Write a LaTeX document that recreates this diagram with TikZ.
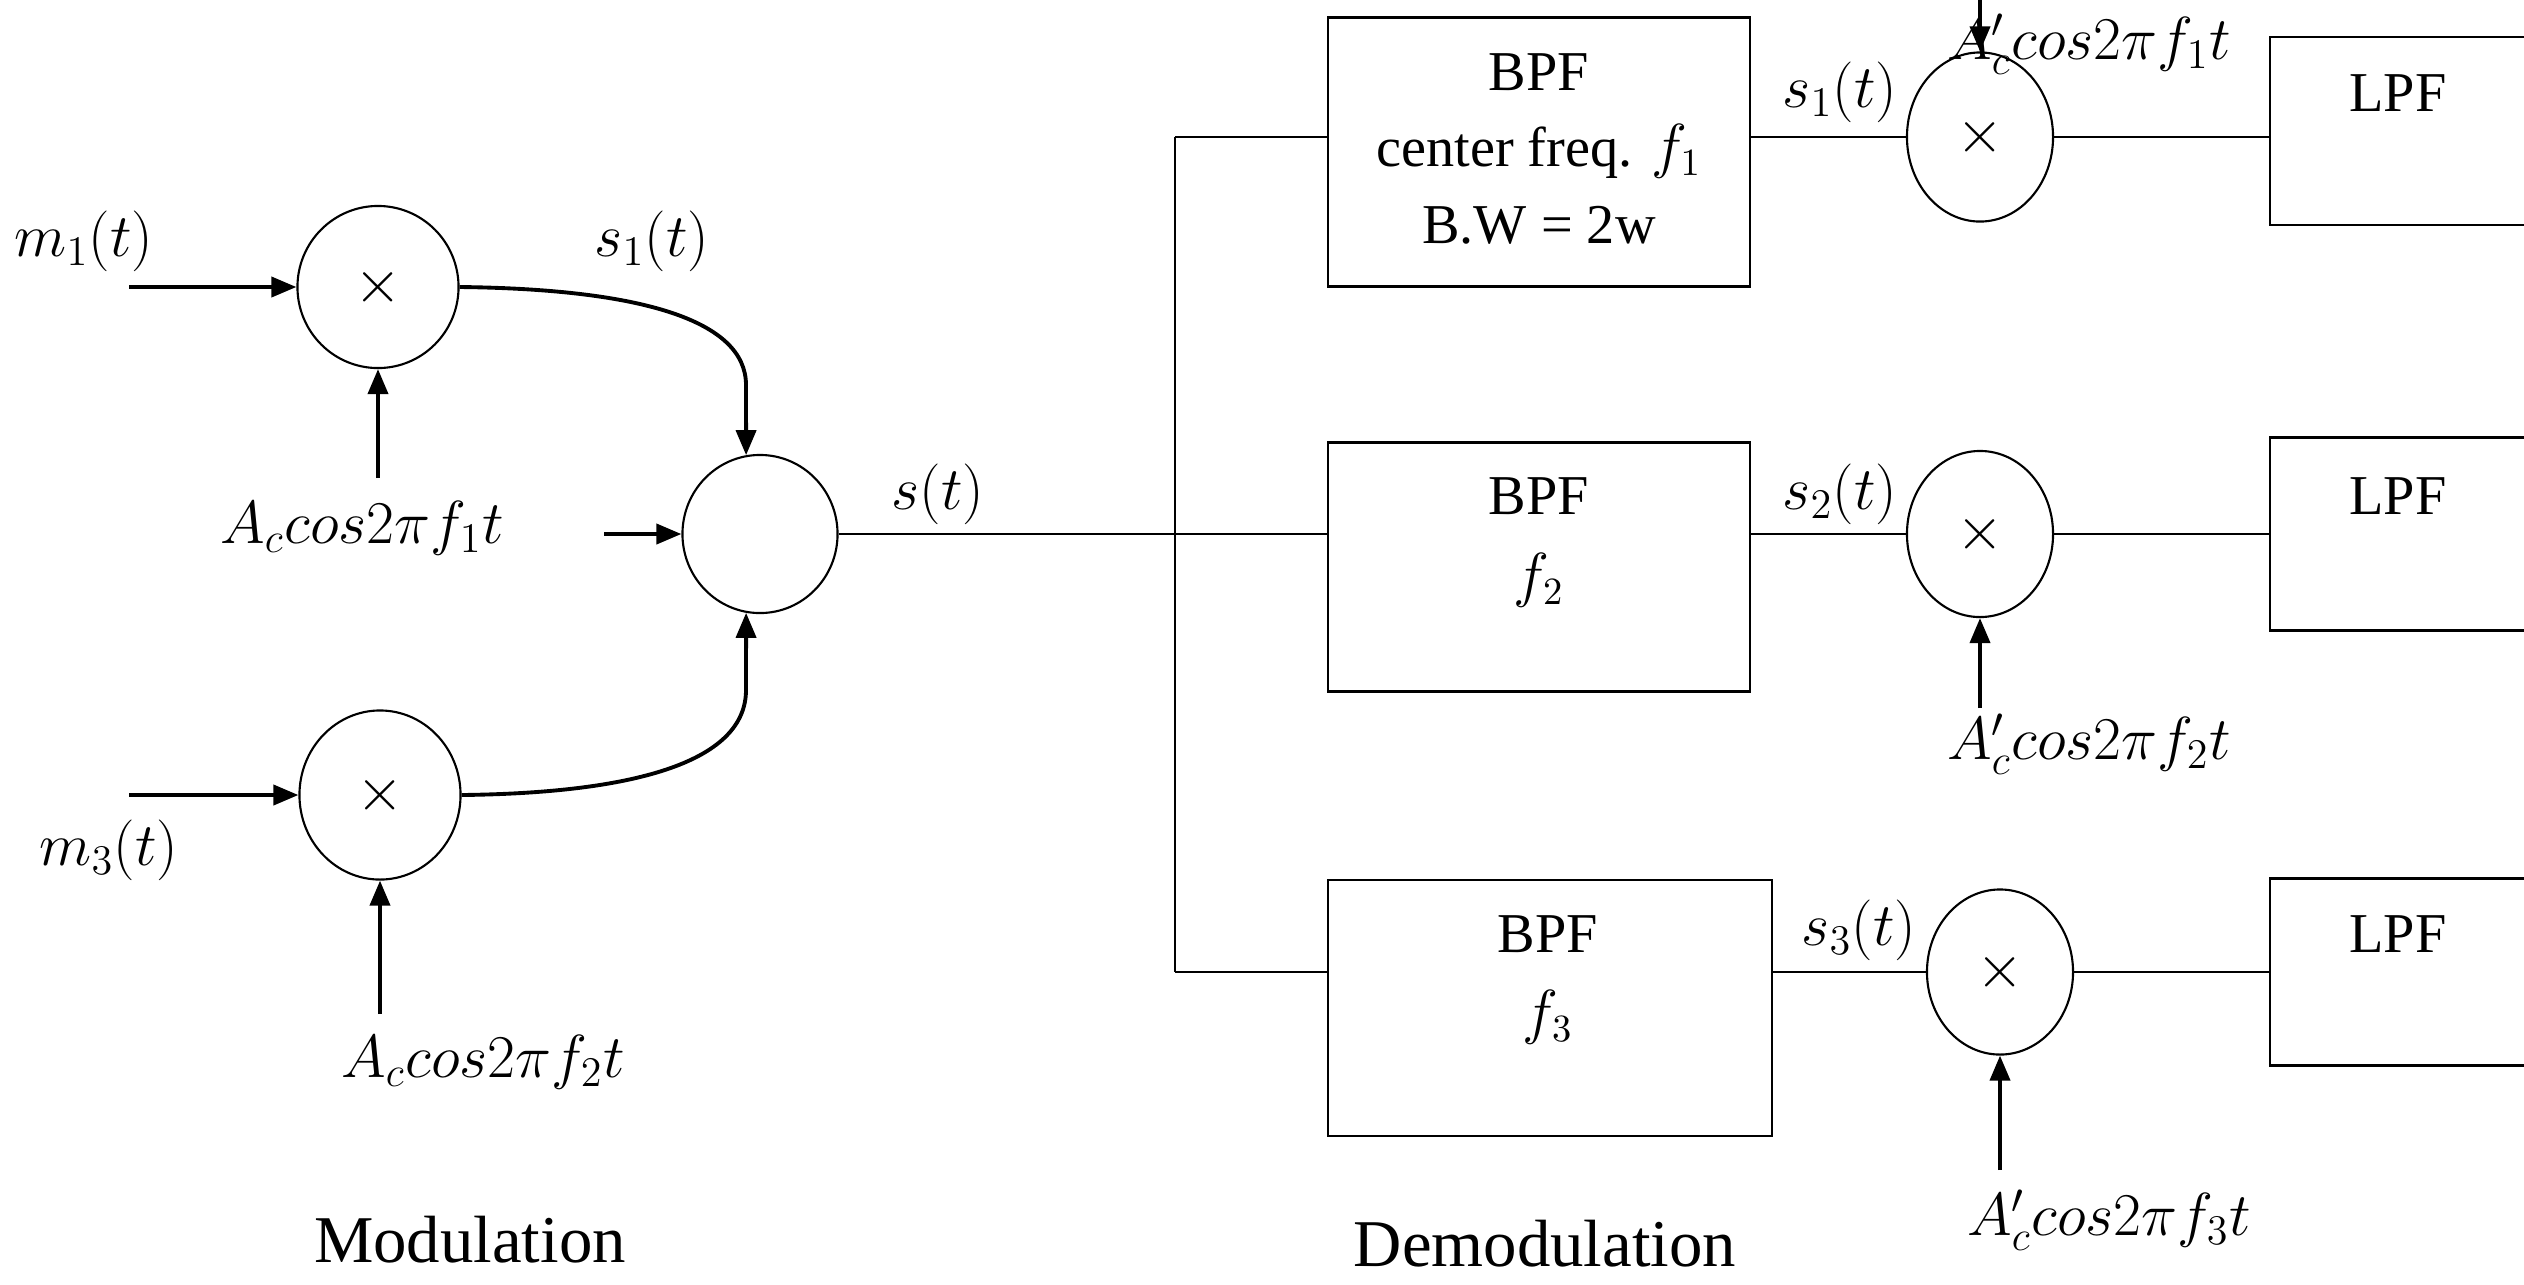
\documentclass[tikz,border=0pt]{standalone}
\usepackage{fontspec}
\setmainfont{Liberation Serif}
\usetikzlibrary{arrows.meta,shapes.geometric,calc}
\begin{document}
\begin{tikzpicture}[x=0.01cm,y=-0.01cm,
  mult/.style={draw,ellipse,line width=0.6pt,inner sep=0pt,font=\fontsize{18}{18}\selectfont},
  box/.style={draw,rectangle,line width=0.7pt,inner sep=0pt},
  arr/.style={line width=1.1pt,-{Triangle[length=0.25cm,width=0.2cm]}},
  wire/.style={line width=0.7pt},
  lab/.style={font=\fontsize{16.5}{19}\selectfont,inner sep=0pt},
  txt/.style={font=\fontsize{16}{19}\selectfont,inner sep=0pt},
  ttl/.style={font=\fontsize{19}{22}\selectfont,inner sep=0pt}]
\clip (0,0) rectangle (2524,1284);
\fill[white] (0,0) rectangle (2524,1284);
% ---------------- Modulation ----------------
\node[mult,minimum width=1.61cm,minimum height=1.62cm] (m1) at (378,287) {$\times$};
\node[mult,minimum width=1.55cm,minimum height=1.58cm] (sum) at (760,534) {};
\node[mult,minimum width=1.61cm,minimum height=1.69cm] (m2) at (380,795) {$\times$};

\coordinate (m1in) at (129,287);
\coordinate (m2in) at (129,795);
\coordinate (c1src) at (378,478);
\coordinate (c2src) at (380,1014);
\coordinate (sin) at (604,534);

\draw[arr] (m1in) -- (m1.west);
\draw[arr] (m2in) -- (m2.west);
\draw[arr] (c1src) -- (m1.south);
\draw[arr] (c2src) -- (m2.south);
\draw[arr] (sin) -- (sum.west);
\draw[arr] (m1.east) .. controls (640,289) and (746,320) .. (746,385) -- (sum.100);
\draw[arr] (m2.east) .. controls (640,793) and (746,760) .. (746,690) -- (sum.260);

\node[lab] (lm1) at (84,241) {$m_1(t)$};
\node[lab] (lac1) at (362,528) {$A_c cos2\pi f_1t$};
\node[lab] (ls1) at (652,241) {$s_1(t)$};
\node[lab] (lm3) at (109,850) {$m_3(t)$};
\node[lab] (lac2) at (483,1062) {$A_c cos2\pi f_2t$};
\node[ttl] (tmod) at (470,1240) {Modulation};
\node[lab] (ls) at (938,494) {$s(t)$};

% ---------------- Demodulation ----------------
\node[box,minimum width=4.22cm,minimum height=2.69cm] (bpf1) at (1539,152) {};
\node[box,minimum width=4.22cm,minimum height=2.49cm] (bpf2) at (1539,567) {};
\node[box,minimum width=4.44cm,minimum height=2.56cm] (bpf3) at (1550,1008) {};

\node[mult,minimum width=1.46cm,minimum height=1.69cm] (dm1) at (1980,137) {$\times$};
\node[mult,minimum width=1.46cm,minimum height=1.66cm] (dm2) at (1980,534) {$\times$};
\node[mult,minimum width=1.46cm,minimum height=1.65cm] (dm3) at (2000,972) {$\times$};

\node[box,minimum width=3.0cm,minimum height=1.88cm] (lpf1) at (2420,131) {};
\node[box,minimum width=3.0cm,minimum height=1.93cm] (lpf2) at (2420,534) {};
\node[box,minimum width=3.0cm,minimum height=1.87cm] (lpf3) at (2420,972) {};

\coordinate (bt) at (1175,137);
\coordinate (bb) at (1175,972);
\draw[wire] (sum.east) -- (sum.east -| bpf2.west);
\draw[wire] (bt) -- (bb);
\draw[wire] (bt) -- (bt -| bpf1.west);
\draw[wire] (bb) -- (bb -| bpf3.west);

\draw[wire] (dm1.west -| bpf1.east) -- (dm1.west);
\draw[wire] (dm2.west -| bpf2.east) -- (dm2.west);
\draw[wire] (dm3.west -| bpf3.east) -- (dm3.west);
\draw[wire] (dm1.east) -- (dm1.east -| lpf1.west);
\draw[wire] (dm2.east) -- (dm2.east -| lpf2.west);
\draw[wire] (dm3.east) -- (dm3.east -| lpf3.west);

\coordinate (d1src) at (1980,-20);
\coordinate (d2src) at (1980,708);
\coordinate (d3src) at (2000,1170);
\draw[arr] (d1src) -- (dm1.north);
\draw[arr] (d2src) -- (dm2.south);
\draw[arr] (d3src) -- (dm3.south);

\node[txt] (b1a) at (1539,72) {BPF};
\node[txt] (b1b) at (1539,151) {center freq. $f_1$};
\node[txt] (b1c) at (1539,225) {B.W = 2w};
\node[txt] (b2a) at (1539,496) {BPF};
\node[txt] (b2b) at (1539,580) {$f_2$};
\node[txt] (b3a) at (1548,934) {BPF};
\node[txt] (b3b) at (1548,1017) {$f_3$};

\node[lab] (ds1) at (1840,92) {$s_1(t)$};
\node[lab] (ds2) at (1840,494) {$s_2(t)$};
\node[lab] (ds3) at (1859,930) {$s_3(t)$};
\node[lab] (dac1) at (2089,44) {$A'_c cos2\pi f_1t$};
\node[lab] (dac2) at (2089,744) {$A'_c cos2\pi f_2t$};
\node[lab] (dac3) at (2109,1220) {$A'_c cos2\pi f_3t$};

\node[txt] (l1) at (2398,93) {LPF};
\node[txt] (l2) at (2398,496) {LPF};
\node[txt] (l3) at (2398,934) {LPF};

\node[ttl] (tdem) at (1545,1244) {Demodulation};
\end{tikzpicture}
\end{document}
